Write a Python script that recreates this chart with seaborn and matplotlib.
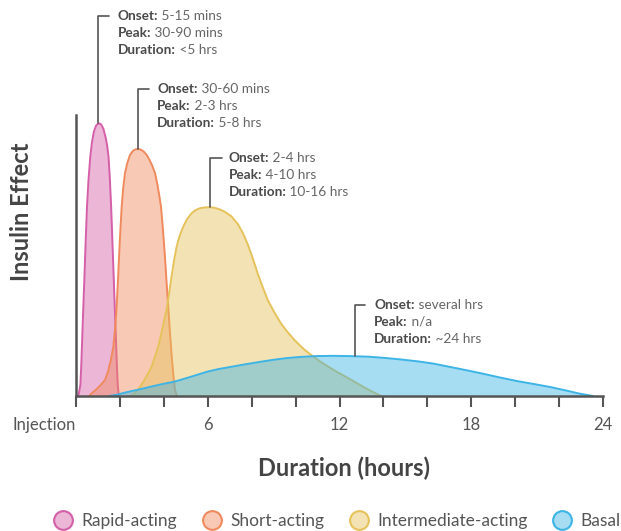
import matplotlib
matplotlib.use('Agg')
import matplotlib.pyplot as plt
from matplotlib.lines import Line2D
import seaborn as sns

# curve points (hours, relative insulin effect)
rapid_x = [0.08, 0.12, 0.2, 0.24, 0.28, 0.33, 0.39, 0.44, 0.5, 0.57, 0.65, 0.73, 0.82, 0.92,
           1.0, 1.07, 1.15, 1.25, 1.35, 1.42, 1.48, 1.54, 1.6, 1.655, 1.71, 1.765, 1.82,
           1.86, 1.9, 1.95]
rapid_y = [0.0, 0.005, 0.04, 0.11, 0.2, 0.31, 0.437, 0.55, 0.674, 0.77, 0.852, 0.905, 0.943,
           0.963, 0.969, 0.97, 0.966, 0.95, 0.92, 0.89, 0.852, 0.775, 0.674, 0.555, 0.437,
           0.315, 0.2, 0.11, 0.04, 0.0]

short_x = [0.6, 0.72, 0.9, 1.1, 1.32, 1.45, 1.58, 1.7, 1.78, 1.85, 1.91, 1.96, 2.02, 2.08,
           2.15, 2.23, 2.34, 2.46, 2.6, 2.72, 2.82, 2.95, 3.08, 3.22, 3.35, 3.48, 3.6, 3.7,
           3.79, 3.87, 3.93, 3.99, 4.05, 4.1, 4.15, 4.2, 4.28, 4.36, 4.44, 4.51, 4.6]
short_y = [0.0, 0.01, 0.022, 0.037, 0.057, 0.085, 0.125, 0.175, 0.24, 0.318, 0.41, 0.496,
           0.59, 0.674, 0.74, 0.793, 0.83, 0.858, 0.873, 0.878, 0.879, 0.877, 0.87, 0.858,
           0.84, 0.818, 0.793, 0.755, 0.715, 0.674, 0.62, 0.56, 0.496, 0.435, 0.375, 0.318,
           0.225, 0.14, 0.07, 0.021, 0.0]

inter_x = [2.5, 2.7, 2.92, 3.1, 3.28, 3.44, 3.6, 3.72, 3.82, 3.92, 4.02, 4.12, 4.24, 4.35,
           4.46, 4.58, 4.72, 4.88, 5.06, 5.26, 5.45, 5.64, 5.85, 6.08, 6.3, 6.55, 6.77, 7.07,
           7.37, 7.6, 7.82, 8.05, 8.27, 8.5, 8.73, 9.03, 9.33, 9.63, 9.94, 10.2, 10.4, 10.73,
           11.1, 11.5, 11.9, 12.3, 12.7, 13.1, 13.5, 13.9]
inter_y = [0.0, 0.012, 0.033, 0.055, 0.08, 0.104, 0.14, 0.17, 0.2, 0.235, 0.27, 0.306,
           0.365, 0.425, 0.48, 0.531, 0.57, 0.602, 0.63, 0.65, 0.662, 0.668, 0.671, 0.672,
           0.67, 0.664, 0.656, 0.64, 0.612, 0.58, 0.54, 0.49, 0.437, 0.388, 0.342, 0.298,
           0.259, 0.228, 0.2, 0.18, 0.165, 0.145, 0.124, 0.104, 0.085, 0.068, 0.05, 0.032,
           0.015, 0.0]

basal_x = [1.5, 1.9, 2.22, 2.8, 3.4, 3.9, 4.48, 5.0, 5.5, 5.99, 6.5, 7.0, 7.5, 7.95, 8.5,
           9.0, 9.6, 10.2, 10.9, 11.7, 12.5, 13.3, 14.0, 14.8, 15.6, 16.3, 17.0, 17.7, 18.5,
           19.3, 20.1, 20.9, 21.6, 22.3, 22.9, 23.55]
basal_y = [0.0, 0.005, 0.012, 0.022, 0.033, 0.042, 0.051, 0.063, 0.075, 0.087, 0.096,
           0.103, 0.11, 0.116, 0.123, 0.129, 0.135, 0.139, 0.142, 0.143, 0.142, 0.14, 0.136,
           0.13, 0.123, 0.115, 0.104, 0.093, 0.08, 0.066, 0.053, 0.042, 0.032, 0.02, 0.009,
           0.0]

names = ['Rapid-acting', 'Short-acting', 'Intermediate-acting', 'Basal']
colors = ['#D55FA8', '#F08A5D', '#E6C25A', '#3CB4E6']

onset = ['5-15 mins', '30-60 mins', '2-4 hrs', 'several hrs']
peak = ['30-90 mins', '2-3 hrs', '4-10 hrs', 'n/a']
duration = ['<5 hrs', '5-8 hrs', '10-16 hrs', '~24 hrs']

tick_pos = list(range(0, 25, 2))
tick_labels = ['Injection', '', '', '6', '', '', '12', '', '', '18', '', '', '24']

sns.set_theme(style='white')
plt.rcParams['font.family'] = ['Lato', 'DejaVu Sans']

fig = plt.figure(figsize=(6.21, 5.31), dpi=100)
ax = fig.add_axes([0.1224, 0.2542, 0.8486, 0.5292])

curves = [(rapid_x, rapid_y), (short_x, short_y), (inter_x, inter_y), (basal_x, basal_y)]
for i in range(4):
    cx, cy = curves[i]
    ax.fill_between(cx, cy, color=colors[i], alpha=0.45, linewidth=0, zorder=2 + i)
    sns.lineplot(x=cx, y=cy, ax=ax, color=colors[i], lw=1.4, estimator=None, sort=False,
                 zorder=2.5 + i)

ax.set_xlim(0, 24)
ax.set_ylim(0, 1)
ax.set_xticks(tick_pos)
ax.set_xticklabels(tick_labels)
ax.get_xticklabels()[0].set_ha('right')
ax.set_yticks([])
ax.tick_params(axis='x', direction='out', length=8, width=1.5, color='#555555',
               labelsize=12, labelcolor='#555555', pad=7, bottom=True)
for s in ['top', 'right']:
    ax.spines[s].set_visible(False)
for s in ['left', 'bottom']:
    ax.spines[s].set_color('#555555')
    ax.spines[s].set_linewidth(1.8)
    ax.spines[s].set_zorder(10)

ax.set_xlabel('Duration (hours)', fontsize=17, fontweight='bold', color='#444444')
ax.xaxis.set_label_coords(0.508, -0.215)
ax.set_ylabel('Insulin Effect', fontsize=17, fontweight='bold', color='#444444')
ax.yaxis.set_label_coords(-0.082, 0.655)

# leader lines and annotation boxes: (leader x, top y, hook end x, text x)
leaders = [(1.02, 1.352, 1.5, 1.91),
           (2.84, 1.091, 3.34, 3.70),
           (6.1, 0.848, 6.63, 6.94),
           (12.7, 0.324, 13.16, 13.58)]
line_step = 0.0605
for i, (lx, ty, hx, tx) in enumerate(leaders):
    cx, cy = curves[i]
    base = max(cy[j] for j in range(len(cx)) if abs(cx[j] - lx) < 0.4)
    ax.plot([lx, lx, hx], [base, ty, ty], color='#555555', lw=1.2, clip_on=False, zorder=9)
    rows = [('Onset:', onset[i]), ('Peak:', peak[i]), ('Duration:', duration[i])]
    for k, (lab, val) in enumerate(rows):
        y = ty - k * line_step
        t = ax.text(tx, y, lab, fontsize=9.8, fontweight='bold', color='#4a4a4a',
                    va='center', ha='left', clip_on=False)
        ax.annotate(' ' + val, xy=(1, 0.5), xycoords=t, va='center', ha='left',
                    fontsize=9.8, color='#666666', annotation_clip=False)

handles = [Line2D([], [], marker='o', ls='none', markersize=13.5,
                  markerfacecolor=matplotlib.colors.to_rgba(c, 0.45),
                  markeredgecolor=c, markeredgewidth=1.5) for c in colors]
fig.legend(handles, names, loc='center left', bbox_to_anchor=(46 / 621, 1 - 520.7 / 531),
           ncol=4, frameon=False, fontsize=12.5, labelcolor='#555555', borderpad=0,
           handletextpad=0.55, columnspacing=1.5, handlelength=1.0)

fig.savefig('out.png', dpi=100)
